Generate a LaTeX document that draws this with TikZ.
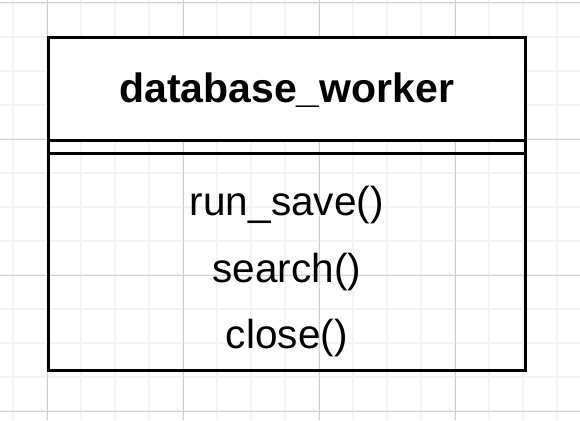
\documentclass[tikz,border=0pt]{standalone}
\usepackage{fontspec}
\setmainfont{Liberation Sans}
\definecolor{gridminor}{HTML}{F3F3F3}
\definecolor{gridmajor}{HTML}{D0D0D0}
\begin{document}
\begin{tikzpicture}[x=1pt,y=-1pt,
  minorline/.style={draw=gridminor,line width=1.4pt},
  majorline/.style={draw=gridmajor,line width=1pt},
  part/.style={draw=black,line width=3pt,minimum width=476.5pt,inner sep=0pt,outer sep=0pt},
  titletext/.style={font=\fontsize{41}{48}\selectfont\bfseries,anchor=base,inner sep=0pt},
  methodtext/.style={font=\fontsize{40.5}{48}\selectfont,anchor=base,inner sep=0pt}]
\useasboundingbox (0,0) rectangle (580,420);
\fill[white] (0,0) rectangle (580,420);
% grid
\foreach \x in {13,47,...,580} \draw[minorline] (\x,0) -- (\x,420);
\foreach \y in {3,37,...,420} \draw[minorline] (0,\y) -- (580,\y);
\foreach \x in {47,183,...,580} \draw[majorline] (\x,0) -- (\x,420);
\foreach \y in {3,139,...,420} \draw[majorline] (0,\y) -- (580,\y);
% class box
\node[part,fill=white,minimum height=102.5pt] (hdr) at (286.75,88.75) {};
\node[part,minimum height=13pt] (attr) at (286.75,146.5) {};
\node[part,minimum height=217.5pt] (ops) at (286.75,261.75) {};
\node[titletext] (title) at (286.75,102) {database\_worker};
\node[methodtext] (m1) at (286.75,215) {run\_save()};
\node[methodtext] (m2) at (286.75,282) {search()};
\node[methodtext] (m3) at (286.75,348) {close()};
\end{tikzpicture}
\end{document}
